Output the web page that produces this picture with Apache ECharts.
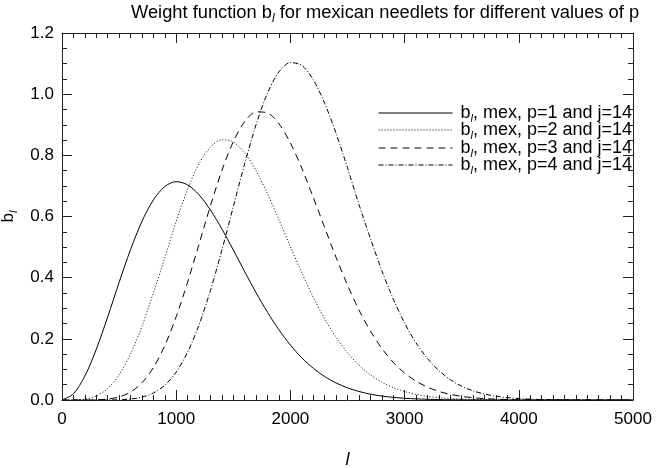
<!DOCTYPE html>
<html><head><meta charset="utf-8">
<script src="https://cdn.jsdelivr.net/npm/echarts@6/dist/echarts.min.js"></script>
<style>html,body{margin:0;padding:0;background:#fff}#c{width:661px;height:468px}</style>
</head><body><div id="c"></div>
<script>
// multipole l (x values)
const ells = [0,100,200,300,400,500,600,700,800,900,1000,1100,1200,1300,1400,1500,1600,1700,1800,1900,2000,2100,2200,2300,2400,2500,2600,2700,2800,2900,3000,3100,3200,3300,3400,3500,3600,3700,3800,3900,4000,4100,4200,4300,4400,4500,4600,4700,4800,4900,5000];
// b_l values, p = 1..4, j = 14
const b_p1 = [0,0.0203,0.0781,0.1655,0.2717,0.3845,0.4917,0.5841,0.6542,0.6979,0.7140,0.7034,0.6711,0.6213,0.5593,0.4905,0.4194,0.3506,0.2865,0.2293,0.1797,0.1380,0.1040,0.0768,0.0558,0.0398,0.0279,0.0191,0.0129,0.0086,0.0056,0.0036,0.0023,0.0014,0.0009,0.0005,0.0003,0.0002,0.0001,0,0,0,0,0,0,0,0,0,0,0,0];
const b_p2 = [0,0.0002,0.0027,0.0129,0.0374,0.0822,0.1505,0.2412,0.3498,0.4649,0.5842,0.6888,0.7722,0.8271,0.8510,0.8435,0.8077,0.7491,0.6738,0.5894,0.5014,0.4159,0.3363,0.2657,0.2050,0.1547,0.1143,0.0826,0.0585,0.0405,0.0276,0.0184,0.0120,0.0077,0.0049,0.0030,0.0018,0.0011,0.0006,0.0004,0.0002,0,0,0,0,0,0,0,0,0,0];
const b_p3 = [0,0,0.0001,0.0006,0.0029,0.0099,0.0259,0.0562,0.1058,0.1779,0.2723,0.3856,0.5098,0.6352,0.7505,0.8447,0.9105,0.9422,0.9388,0.9032,0.8404,0.7575,0.6628,0.5638,0.4663,0.3755,0.2948,0.2258,0.1689,0.1234,0.0881,0.0615,0.0421,0.0282,0.0184,0.0118,0.0074,0.0046,0.0028,0.0017,0.0010,0.0006,0.0003,0.0002,0,0,0,0,0,0,0];
const b_p4 = [0,0,0,0,0.0002,0.0008,0.0031,0.0093,0.0228,0.0484,0.0914,0.1563,0.2456,0.3584,0.4900,0.6320,0.7731,0.9011,1.0042,1.0732,1.1032,1.0942,1.0473,0.9703,0.8713,0.7590,0.6398,0.5290,0.4236,0.3308,0.2516,0.1870,0.1357,0.0962,0.0666,0.0452,0.0299,0.0194,0.0123,0.0077,0.0047,0.0028,0.0016,0.0009,0.0005,0.0003,0.0002,0,0,0,0];
const pValues = [1,2,3,4];
const seriesValues = [b_p1,b_p2,b_p3,b_p4];
const xTickLabels = ['0','1000','2000','3000','4000','5000'];
const yTickLabels = ['0.0','0.2','0.4','0.6','0.8','1.0','1.2'];
const dashTypes = ['solid',[1,2],[7,5],[5,2,1,2]];

const FONT = '"Liberation Sans", Arial, Helvetica, sans-serif';
const chart = echarts.init(document.getElementById('c'), null, {renderer:'canvas'});
const names = pValues.map(p => 'p' + p);
const series = seriesValues.map((vals, k) => ({
  name: names[k], type:'line', symbol:'none', showSymbol:false, smooth:0.3,
  color:'#000',
  data: ells.map((l,i) => [l, vals[i]]),
  lineStyle:{color:'#000', width:1, type:dashTypes[k]},
  emphasis:{disabled:true}, animation:false
}));
const legendTops = [104, 121, 139, 156];
const legends = names.map((n,k) => ({
  data:[n], left:378, top:legendTops[k], orient:'vertical', itemWidth:74, itemHeight:14, padding:0,
  selectedMode:false, lineStyle:{width:1, color:'#000'}, itemStyle:{opacity:0},
  formatter: () => '{b|b}{s|l}{t|, mex, p=' + pValues[k] + ' and j=14}',
  textStyle:{rich:{
    b:{fontSize:18, fontFamily:FONT, color:'#000', padding:[0,0,0,3], lineHeight:18},
    s:{fontSize:11, fontStyle:'italic', fontFamily:FONT, color:'#000', verticalAlign:'bottom', lineHeight:22},
    t:{fontSize:18, fontFamily:FONT, color:'#000', lineHeight:18}
  }}
}));
const LC = '#222';
function axis(dim, pos, extra) {
  const a = {
    type:'value', position:pos,
    min:0, max: dim === 'x' ? 5000 : 1.2, interval: dim === 'x' ? 1000 : 0.2,
    axisLine:{show:true, onZero:false, lineStyle:{color:LC}},
    axisTick:{show:true, inside:false, length:-10, lineStyle:{color:LC}},
    minorTick:{show:true, splitNumber: dim === 'x' ? 10 : 4, length:-5, lineStyle:{color:LC}},
    splitLine:{show:false},
    axisLabel:{show:false}
  };
  return Object.assign(a, extra || {});
}
chart.setOption({
  animation:false,
  backgroundColor:'#fff',
  title:{
    text:'Weight function b{s|l} for mexican needlets for different values of p',
    left:126, top:-4,
    textStyle:{fontSize:18.3, fontWeight:'normal', fontFamily:FONT, color:'#000',
      rich:{s:{fontSize:12, fontStyle:'italic', fontFamily:FONT, color:'#000', verticalAlign:'bottom', lineHeight:24}}}
  },
  grid:{left:62, right:28, top:33, bottom:68, outerBoundsMode:'none'},
  legend:legends,
  xAxis:[
    axis('x','bottom',{
      axisLabel:{show:true, fontSize:17, fontFamily:FONT, color:'#000', margin:11,
        formatter:(v)=>{const i=Math.round(v/1000); return xTickLabels[i]!==undefined?xTickLabels[i]:'';}},
      name:'l', nameLocation:'middle', nameGap:51,
      nameTextStyle:{fontSize:18, fontStyle:'italic', fontFamily:FONT, color:'#000'}}),
    axis('x','top')
  ],
  yAxis:[
    axis('y','left',{
      axisLabel:{show:true, fontSize:17, fontFamily:FONT, color:'#000', margin:8,
        formatter:(v)=>{const i=Math.round(v/0.2); return yTickLabels[i]!==undefined?yTickLabels[i]:'';}},
      name:'b{s|l}', nameLocation:'middle', nameGap:36, nameRotate:90,
      nameTextStyle:{fontSize:17, fontFamily:FONT, color:'#000',
        rich:{s:{fontSize:11, fontStyle:'italic', fontFamily:FONT, color:'#000', verticalAlign:'bottom', lineHeight:22}}}}),
    axis('y','right')
  ],
  series:series
});
</script></body></html>
